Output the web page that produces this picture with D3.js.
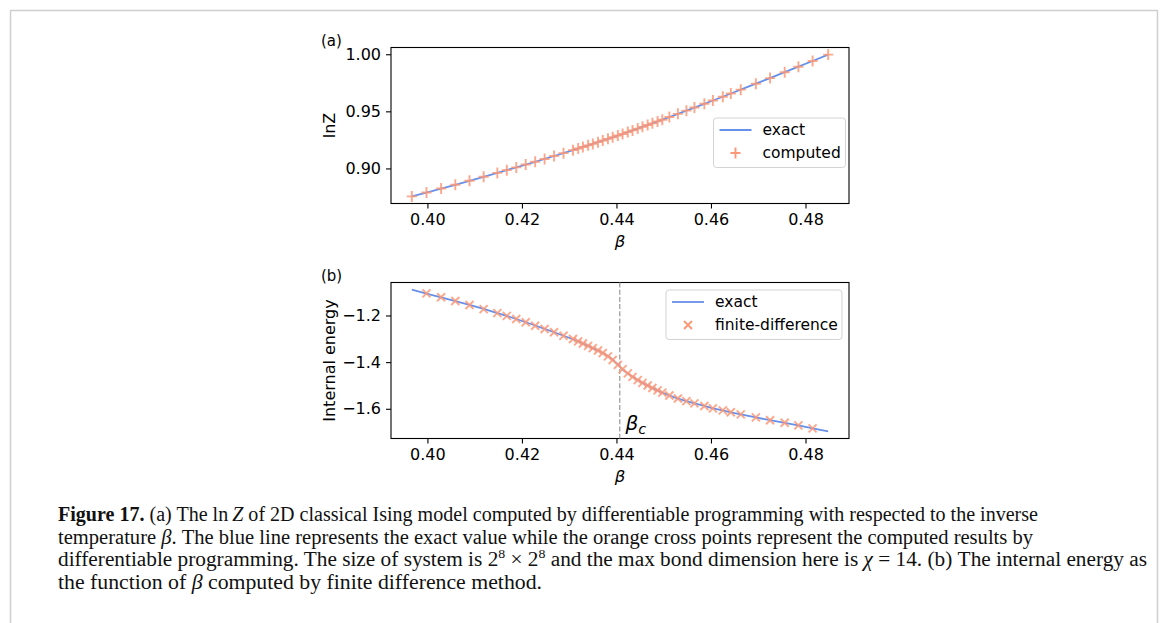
<!DOCTYPE html>
<html>
<head>
<meta charset="utf-8">
<script src="https://cdn.jsdelivr.net/npm/d3@7"></script>
<style>
  body { margin: 0; background: #fff; }
  svg { display: block; }
</style>
</head>
<body>
<svg id="fig" width="1168" height="623"></svg>
<script>
// values
const beta = [0.3967, 0.3998, 0.4029, 0.4059, 0.4089, 0.4119, 0.4148, 0.4168, 0.4188, 0.4208,
    0.4228, 0.4248, 0.4268, 0.4288, 0.4308, 0.4319, 0.4329, 0.4340, 0.4350, 0.4361,
    0.4371, 0.4382, 0.4392, 0.4403, 0.4413, 0.4424, 0.4434, 0.4445, 0.4455, 0.4466,
    0.4476, 0.4487, 0.4497, 0.4512, 0.4530, 0.4548, 0.4565, 0.4586, 0.4604, 0.4625,
    0.4642, 0.4663, 0.4695, 0.4725, 0.4756, 0.4785, 0.4815, 0.4848];

const lnZExact = [0.8755, 0.8789, 0.8824, 0.8857, 0.8892, 0.8927, 0.8961, 0.8985, 0.9009, 0.9034,
    0.9058, 0.9083, 0.9109, 0.9134, 0.9160, 0.9174, 0.9188, 0.9202, 0.9215, 0.9230,
    0.9244, 0.9259, 0.9273, 0.9288, 0.9302, 0.9318, 0.9333, 0.9349, 0.9364, 0.9380,
    0.9395, 0.9412, 0.9427, 0.9450, 0.9478, 0.9506, 0.9533, 0.9566, 0.9595, 0.9628,
    0.9656, 0.9690, 0.9742, 0.9791, 0.9843, 0.9891, 0.9941, 0.9997];

const lnZComputed = [0.8755, 0.8789, 0.8824, 0.8857, 0.8892, 0.8927, 0.8961, 0.8985, 0.9009, 0.9034,
    0.9058, 0.9083, 0.9109, 0.9134, 0.9160, 0.9174, 0.9188, 0.9202, 0.9215, 0.9230,
    0.9244, 0.9259, 0.9273, 0.9288, 0.9302, 0.9318, 0.9333, 0.9349, 0.9364, 0.9380,
    0.9395, 0.9412, 0.9427, 0.9450, 0.9478, 0.9506, 0.9533, 0.9566, 0.9595, 0.9628,
    0.9656, 0.9690, 0.9742, 0.9791, 0.9843, 0.9891, 0.9941, 0.9997];

const energyExact = [-1.089, -1.106, -1.122, -1.138, -1.155, -1.172, -1.190, -1.202, -1.215, -1.229,
    -1.243, -1.257, -1.272, -1.287, -1.302, -1.311, -1.320, -1.330, -1.340, -1.350,
    -1.361, -1.374, -1.389, -1.410, -1.432, -1.449, -1.463, -1.477, -1.489, -1.500,
    -1.511, -1.521, -1.531, -1.543, -1.556, -1.567, -1.577, -1.588, -1.598, -1.607,
    -1.615, -1.624, -1.637, -1.649, -1.660, -1.671, -1.684, -1.697];

// finite difference drops the two end points
const energyFD = [-1.105, -1.122, -1.138, -1.155, -1.173, -1.190, -1.202, -1.215, -1.229,
    -1.244, -1.258, -1.272, -1.287, -1.301, -1.311, -1.320, -1.330, -1.340, -1.350,
    -1.361, -1.375, -1.391, -1.412, -1.430, -1.448, -1.463, -1.477, -1.489, -1.500,
    -1.511, -1.521, -1.531, -1.543, -1.556, -1.567, -1.577, -1.588, -1.598, -1.607,
    -1.615, -1.624, -1.637, -1.649, -1.660, -1.671, -1.684];
const betaFD = beta.slice(1, 1 + energyFD.length);

const betaC = 0.4407;
const xTicks = [0.40, 0.42, 0.44, 0.46, 0.48];
const lnZTicks = [0.90, 0.95, 1.00];
const energyTicks = [-1.6, -1.4, -1.2];

const lineColor = "#6790ea",
    markColor = "#fc9878",
    axisFont = "DejaVu Sans, sans-serif",
    fs = 16;

const svg = d3.select("#fig");

// figure frame
svg.append("rect")
    .attr("x", 10.5).attr("y", 10.5)
    .attr("width", 1147).attr("height", 700)
    .attr("fill", "none")
    .attr("stroke", "#cfcfcf")
    .attr("stroke-width", 1.5);

function padded(vals) {
    const [a, b] = d3.extent(vals);
    const m = (b - a) * 0.05;
    return [a - m, b + m];
}

function panel(box, yVals, yTicks, yFmt, yLabel, tag) {
    const g = svg.append("g").style("font-family", axisFont);

    const x = d3.scaleLinear().domain(padded(beta)).range([box.left, box.right]);
    const y = d3.scaleLinear().domain(padded(yVals)).range([box.bottom, box.top]);

    const xAxis = g.append("g")
        .attr("transform", `translate(0,${box.bottom})`)
        .call(d3.axisBottom(x).tickValues(xTicks).tickFormat(d3.format(".2f"))
            .tickSize(5).tickPadding(5));
    const yAxis = g.append("g")
        .attr("transform", `translate(${box.left},0)`)
        .call(d3.axisLeft(y).tickValues(yTicks).tickFormat(yFmt)
            .tickSize(5).tickPadding(5));

    [xAxis, yAxis].forEach(a => {
        a.select(".domain").remove();
        a.selectAll("line").attr("stroke", "#000").attr("stroke-width", 1.1);
        a.selectAll("text").attr("fill", "#000").style("font-size", fs + "px")
            .style("font-family", axisFont);
    });

    g.append("rect")
        .attr("x", box.left).attr("y", box.top)
        .attr("width", box.right - box.left)
        .attr("height", box.bottom - box.top)
        .attr("fill", "none")
        .attr("stroke", "#000")
        .attr("stroke-width", 1.1);

    g.append("text")
        .attr("x", (box.left + box.right) / 2)
        .attr("y", box.bottom + 43)
        .attr("text-anchor", "middle")
        .style("font-size", "16.5px")
        .style("font-style", "italic")
        .text("β");

    g.append("text")
        .attr("transform", `translate(${box.left - 56},${(box.top + box.bottom) / 2}) rotate(-90)`)
        .attr("text-anchor", "middle")
        .style("font-size", fs + "px")
        .text(yLabel);

    g.append("text")
        .attr("x", box.left - 70)
        .attr("y", box.top - 2)
        .style("font-size", "15px")
        .text(tag);

    return {g, x, y};
}

function legend(g, x0, y0, w, h, label2, symbol) {
    const lg = g.append("g").attr("transform", `translate(${x0},${y0})`);
    lg.append("rect")
        .attr("width", w).attr("height", h)
        .attr("rx", 3)
        .attr("fill", "#fff").attr("fill-opacity", 0.8)
        .attr("stroke", "#d3d3d3").attr("stroke-width", 1);
    lg.append("line")
        .attr("x1", 6).attr("x2", 38)
        .attr("y1", 12).attr("y2", 12)
        .attr("stroke", lineColor).attr("stroke-width", 1.8);
    lg.append("path")
        .attr("d", symbol)
        .attr("transform", `translate(22,${h - 14.5})`)
        .attr("stroke", markColor).attr("stroke-width", 1.9).attr("fill", "none");
    lg.append("text").attr("x", 49).attr("y", 12).attr("dy", "0.35em")
        .style("font-size", "15.5px").text("exact");
    lg.append("text").attr("x", 49).attr("y", h - 14.5).attr("dy", "0.35em")
        .style("font-size", "15.5px").text(label2);
}

const plus = "M-5,0H5M0,-5.5V5.5";
const cross = "M-4,-4L4,4M-4,4L4,-4";

// (a) ln Z
const a = panel({left: 391, right: 849, top: 47.5, bottom: 203.5},
    lnZExact, lnZTicks, d3.format(".2f"), "lnZ", "(a)");

a.g.append("path")
    .datum(beta.map((b, i) => [b, lnZExact[i]]))
    .attr("fill", "none")
    .attr("stroke", lineColor)
    .attr("stroke-width", 1.8)
    .attr("d", d3.line().x(d => a.x(d[0])).y(d => a.y(d[1])));

a.g.append("g")
    .selectAll("path")
    .data(beta.map((b, i) => [b, lnZComputed[i]]))
    .join("path")
    .attr("d", plus)
    .attr("transform", d => `translate(${a.x(d[0])},${a.y(d[1])})`)
    .attr("stroke", markColor)
    .attr("stroke-width", 1.9)
    .attr("stroke-opacity", 0.85);

legend(a.g, 713.5, 118, 132, 49.5, "computed", plus);

// (b) internal energy
const b = panel({left: 391, right: 849, top: 282.5, bottom: 438.5},
    energyExact, energyTicks, d3.format(".1f"), "Internal energy", "(b)");

b.g.append("line")
    .attr("x1", b.x(betaC)).attr("x2", b.x(betaC))
    .attr("y1", 282.5).attr("y2", 438.5)
    .attr("stroke", "#999")
    .attr("stroke-width", 1.2)
    .attr("stroke-dasharray", "5,2.2");

b.g.append("path")
    .datum(beta.map((v, i) => [v, energyExact[i]]))
    .attr("fill", "none")
    .attr("stroke", lineColor)
    .attr("stroke-width", 1.8)
    .attr("d", d3.line().x(d => b.x(d[0])).y(d => b.y(d[1])));

b.g.append("g")
    .selectAll("path")
    .data(betaFD.map((v, i) => [v, energyFD[i]]))
    .join("path")
    .attr("d", cross)
    .attr("transform", d => `translate(${b.x(d[0])},${b.y(d[1])})`)
    .attr("stroke", markColor)
    .attr("stroke-width", 1.9)
    .attr("stroke-opacity", 0.85);

const bc = b.g.append("text")
    .attr("x", b.x(betaC + 0.0012))
    .attr("y", b.y(-1.693))
    .style("font-size", "20px")
    .style("font-family", "DejaVu Sans, sans-serif");
bc.append("tspan").style("font-style", "italic").text("β");
bc.append("tspan").attr("dy", 4).style("font-size", "14.5px").style("font-style", "italic").text("c");

legend(b.g, 666, 290, 176, 49.5, "finite-difference", cross);

// caption
const capFont = "Liberation Serif, serif";
const cap = svg.append("g").style("font-family", capFont).style("font-size", "20px").attr("fill", "#111");

const l1 = cap.append("text").attr("x", 58).attr("y", 521)
    .attr("textLength", 980).attr("lengthAdjust", "spacingAndGlyphs");
l1.append("tspan").style("font-weight", "bold").text("Figure 17.");
l1.append("tspan").text(" (a) The ln\u2009");
l1.append("tspan").style("font-style", "italic").text("Z");
l1.append("tspan").text(" of 2D classical Ising model computed by differentiable programming with respected to the inverse");

const l2 = cap.append("text").attr("x", 58).attr("y", 543.5)
    .attr("textLength", 975).attr("lengthAdjust", "spacingAndGlyphs");
l2.append("tspan").text("temperature ");
l2.append("tspan").style("font-style", "italic").text("β");
l2.append("tspan").text(". The blue line represents the exact value while the orange cross points represent the computed results by");

const l3 = cap.append("text").attr("x", 58).attr("y", 566)
    .attr("textLength", 1089).attr("lengthAdjust", "spacingAndGlyphs");
l3.append("tspan").text("differentiable programming. The size of system is 2");
l3.append("tspan").attr("dy", -8).style("font-size", "13px").text("8");
l3.append("tspan").attr("dy", 8).text(" × 2");
l3.append("tspan").attr("dy", -8).style("font-size", "13px").text("8");
l3.append("tspan").attr("dy", 8).text(" and the max bond dimension here is ");
l3.append("tspan").style("font-style", "italic").text("χ");
l3.append("tspan").text(" = 14. (b) The internal energy as");

const l4 = cap.append("text").attr("x", 58).attr("y", 588.5)
    .attr("textLength", 484).attr("lengthAdjust", "spacingAndGlyphs");
l4.append("tspan").text("the function of ");
l4.append("tspan").style("font-style", "italic").text("β");
l4.append("tspan").text(" computed by finite difference method.");
</script>
</body>
</html>
